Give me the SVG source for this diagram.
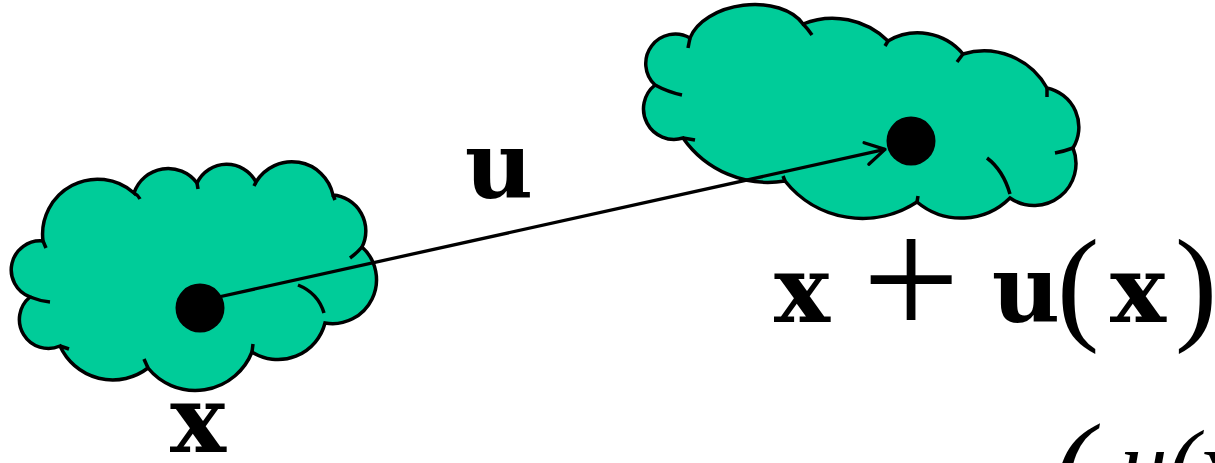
<svg xmlns="http://www.w3.org/2000/svg" width="1215" height="463" viewBox="0 0 1215 463">
  <defs>
    <style>
      .cloud { fill: #00CC99; stroke: #000; stroke-width: 3.5; stroke-linejoin: miter; }
      .tail { fill: none; stroke: #000; stroke-width: 3.5; stroke-linecap: butt; }
      .dot { fill: #000; }
      .conn { fill: none; stroke: #000; stroke-width: 3.3; }
      .bold { font-family: "DejaVu Serif", "Liberation Serif", serif; font-weight: bold; fill: #000; }
      .paren { font-family: "Liberation Serif", serif; font-weight: normal; }
      .plus { font-family: "Liberation Serif", serif; font-weight: normal; }
      .ital { font-family: "Liberation Serif", serif; font-style: italic; fill: #000; }
    </style>
    <marker id="open-arrow" markerUnits="userSpaceOnUse" markerWidth="30" markerHeight="30" refX="0" refY="0" viewBox="-25 -15 30 30" orient="auto" overflow="visible">
      <path d="M-19,-11 L0,0 L-19,11" fill="none" stroke="#000" stroke-width="3.3" stroke-linecap="round" stroke-linejoin="round"/>
    </marker>
  </defs>

  <rect width="1215" height="463" fill="#fff"/>

  <g id="node-x">
    <path class="cloud" d="M43,241 A55,55 0 0 1 134,193 A36,36 0 0 1 197,183 A33,33 0 0 1 256,182 A42,42 0 0 1 333,195 A36,36 0 0 1 362,247 A44,44 0 0 1 325,323 A48.5,48.5 0 0 1 252,352 A61,61 0 0 1 148,368 A58,58 0 0 1 60,346 A29,29 0 0 1 30,297 A29,29 0 0 1 43,241 Z"/>
    <path class="tail" d="M134,193 Q138,195 140,199"/>
    <path class="tail" d="M197,183 L198,189"/>
    <path class="tail" d="M256,182 L254,186"/>
    <path class="tail" d="M333,195 L335,200"/>
    <path class="tail" d="M362,247 Q357,253 350,258"/>
    <path class="tail" d="M298,285 Q318,293 324,313"/>
    <path class="tail" d="M252,352 L253,344"/>
    <path class="tail" d="M148,368 L144,359"/>
    <path class="tail" d="M60,346 L69,349"/>
    <path class="tail" d="M30,297 Q40,301 50,302"/>
    <path class="tail" d="M43,241 L46,248"/>
    <circle class="dot" cx="200" cy="308" r="24.5"/>
    <text class="bold" x="198" y="452" font-size="94" text-anchor="middle">x</text>
  </g>

  <g id="node-x-plus-u">
    <path class="cloud" d="M655,85 A29.5,29.5 0 0 1 690,38 A60,38 -7 0 1 803,24 A79,79 0 0 1 888,41 A59,59 0 0 1 963,54 A72,72 0 0 1 1047,88 A40,40 0 0 1 1073,148 A42,42 0 0 1 1010,198 A69,69 0 0 1 917,202 A99,99 0 0 1 785,181 A104,104 0 0 1 683,138 A30.5,30.5 0 0 1 655,85 Z"/>
    <path class="tail" d="M690,38 Q689,43 688,48"/>
    <path class="tail" d="M803,24 Q808,29 812,35"/>
    <path class="tail" d="M888,41 L885,46"/>
    <path class="tail" d="M963,54 L957,62"/>
    <path class="tail" d="M1047,88 L1047,97"/>
    <path class="tail" d="M1073,148 Q1065,151 1055,153"/>
    <path class="tail" d="M987,158 Q1003,170 1010,194"/>
    <path class="tail" d="M917,202 L918,196"/>
    <path class="tail" d="M785,181 L783,176"/>
    <path class="tail" d="M683,138 L695,140"/>
    <path class="tail" d="M655,85 Q668,92 682,95"/>
    <circle class="dot" cx="911" cy="141" r="24.5"/>
    <text class="bold" font-size="94" text-anchor="middle"><tspan x="802" y="322">x</tspan><tspan class="plus" x="911" y="337" font-size="174">+</tspan><tspan x="1026" y="322">u</tspan><tspan class="paren" x="1078" y="327" font-size="128">(</tspan><tspan x="1138" y="322">x</tspan><tspan class="paren" x="1196" y="327" font-size="128">)</tspan></text>
  </g>

  <g id="connectors">
    <line class="conn" x1="205" y1="300" x2="885" y2="149.4" marker-end="url(#open-arrow)"/>
    <text class="bold" x="499" y="198" font-size="94" text-anchor="middle">u</text>
  </g>

  <text class="ital"><tspan x="1052" y="510" font-size="125">(</tspan><tspan x="1120" y="496" font-size="95">u(x</tspan></text>
</svg>
